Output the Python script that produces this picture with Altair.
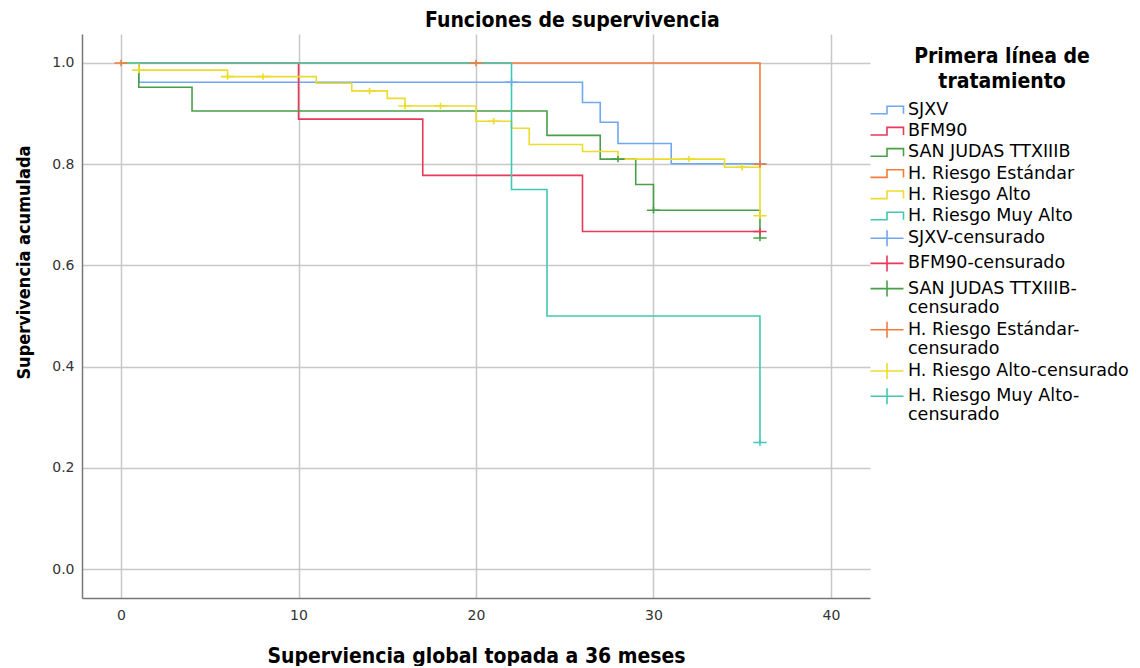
import altair as alt
import pandas as pd

series = ["SJXV", "BFM90", "SAN JUDAS TTXIIIB", "H. Riesgo Estándar",
          "H. Riesgo Alto", "H. Riesgo Muy Alto"]
colors = ["#6fa8ec", "#e8385c", "#4a9e48", "#f47c3c", "#ecdc2c", "#40c8b4"]

# step curves (time, cumulative survival)
t_sjxv = [0, 1, 26, 27, 28, 31, 36]
s_sjxv = [1.0, 0.962, 0.922, 0.883, 0.841, 0.801, 0.801]
t_bfm = [0, 10, 17, 26, 36]
s_bfm = [1.0, 0.889, 0.778, 0.667, 0.667]
t_sj = [0, 1, 4, 24, 27, 29, 30, 36]
s_sj = [1.0, 0.952, 0.905, 0.857, 0.810, 0.760, 0.709, 0.654]
t_est = [0, 36]
s_est = [1.0, 0.8]
t_alto = [0, 1, 6, 11, 13, 15, 16, 20, 22, 23, 26, 28, 34, 36]
s_alto = [1.0, 0.986, 0.973, 0.960, 0.945, 0.930, 0.915, 0.885, 0.871,
          0.839, 0.825, 0.810, 0.794, 0.698]
t_muy = [0, 22, 24, 36]
s_muy = [1.0, 0.75, 0.5, 0.25]

# censored observations
ct_sjxv = [22, 36]
cs_sjxv = [0.962, 0.801]
ct_bfm = [36]
cs_bfm = [0.667]
ct_sj = [28, 30, 36]
cs_sj = [0.810, 0.709, 0.654]
ct_est = [0, 20, 36]
cs_est = [1.0, 1.0, 0.8]
ct_alto = [1, 6, 8, 14, 16, 18, 21, 32, 35, 36]
cs_alto = [0.986, 0.973, 0.973, 0.945, 0.915, 0.915, 0.885, 0.810, 0.794, 0.698]
ct_muy = [36]
cs_muy = [0.25]

x_ticks = [0, 10, 20, 30, 40]
y_ticks = [0.0, 0.2, 0.4, 0.6, 0.8, 1.0]

curves = [(t_sjxv, s_sjxv), (t_bfm, s_bfm), (t_sj, s_sj), (t_est, s_est),
          (t_alto, s_alto), (t_muy, s_muy)]
cens = [(ct_sjxv, cs_sjxv), (ct_bfm, cs_bfm), (ct_sj, cs_sj), (ct_est, cs_est),
        (ct_alto, cs_alto), (ct_muy, cs_muy)]

line_rows = []
for name, (ts, ss) in zip(series, curves):
    for t, s in zip(ts, ss):
        line_rows.append({"key": name, "t": t, "s": s})
cens_rows = []
for name, (ts, ss) in zip(series, cens):
    for t, s in zip(ts, ss):
        cens_rows.append({"key": name + "-censurado", "t": t, "s": s})

line_df = pd.DataFrame(line_rows)
cens_df = pd.DataFrame(cens_rows)

keys = series + [n + "-censurado" for n in series]
key_colors = colors + colors
step_path = "M-1.65,0.38L0,0.38L0,-0.38L1.65,-0.38L1.65,0.38"
cross_path = "M-1.65,0L1.65,0M0,-0.8L0,0.8"
key_shapes = [step_path] * 6 + [cross_path] * 6

FONT = "DejaVu Sans"
BOLD = "DejaVu Sans Condensed"

xscale = alt.Scale(domain=[-2.2, 42.2], nice=False, zero=False)
yscale = alt.Scale(domain=[-0.0573, 1.0573], nice=False, zero=False)
cscale = alt.Scale(domain=keys, range=key_colors)
sscale = alt.Scale(domain=keys, range=key_shapes)

legend = alt.Legend(
    title=["Primera línea de", "tratamiento"],
    titleFont=BOLD, titleFontSize=21, titleFontWeight="bold", titleColor="#000",
    titleAlign="center", titleAnchor="middle", titlePadding=7, titleLineHeight=25,
    labelFont=FONT, labelFontSize=17.5, labelColor="#000",
    labelExpr="length(datum.label) > 25 ? [slice(datum.label, 0, lastindexof(datum.label, '-') + 1), 'censurado'] : datum.label",
    labelOffset=10, labelLimit=400,
    symbolSize=400, symbolStrokeWidth=1.6, rowPadding=1.2, gridAlign="none",
    orient="none", legendX=794, legendY=12, padding=0,
)

xaxis = alt.Axis(values=x_ticks, title="Superviencia global topada a 36 meses",
                 grid=True, ticks=False, labelPadding=10, titlePadding=23,
                 titleFontSize=21)
yaxis = alt.Axis(values=y_ticks, format=".1f", title="Supervivencia acumulada",
                 grid=True, ticks=False, labelPadding=8, titlePadding=18,
                 titleFontSize=18, titleY=228)

lines = alt.Chart(line_df).mark_line(interpolate="step-after", strokeWidth=1.6).encode(
    x=alt.X("t:Q", scale=xscale, axis=xaxis),
    y=alt.Y("s:Q", scale=yscale, axis=yaxis),
    color=alt.Color("key:N", scale=cscale, legend=legend),
    detail="key:N",
)

points = alt.Chart(cens_df).mark_point(filled=False, strokeWidth=1.6, size=64, opacity=1).encode(
    x=alt.X("t:Q", scale=xscale),
    y=alt.Y("s:Q", scale=yscale),
    color=alt.Color("key:N", scale=cscale, legend=legend),
    shape=alt.Shape("key:N", scale=sscale, legend=legend),
)

chart = alt.layer(lines, points).properties(
    width=788, height=564,
    title=alt.TitleParams("Funciones de supervivencia", font=BOLD, fontSize=21,
                          fontWeight="bold", color="#000", offset=3,
                          anchor="middle", frame="bounds"),
    padding={"left": 7, "top": 2, "right": 0, "bottom": 0},
).configure(
    style={"guide-label": {"lineHeight": 19}},
).configure_axis(
    labelFont=FONT, labelFontSize=14, labelColor="#333",
    titleFont=BOLD, titleFontWeight="bold", titleColor="#000",
    gridColor="#c8c8c8", gridWidth=1.5, domainColor="#777", domainWidth=1.5,
).configure_view(stroke=None)

chart.save("out.html", embed_options={"renderer": "svg", "actions": False})
